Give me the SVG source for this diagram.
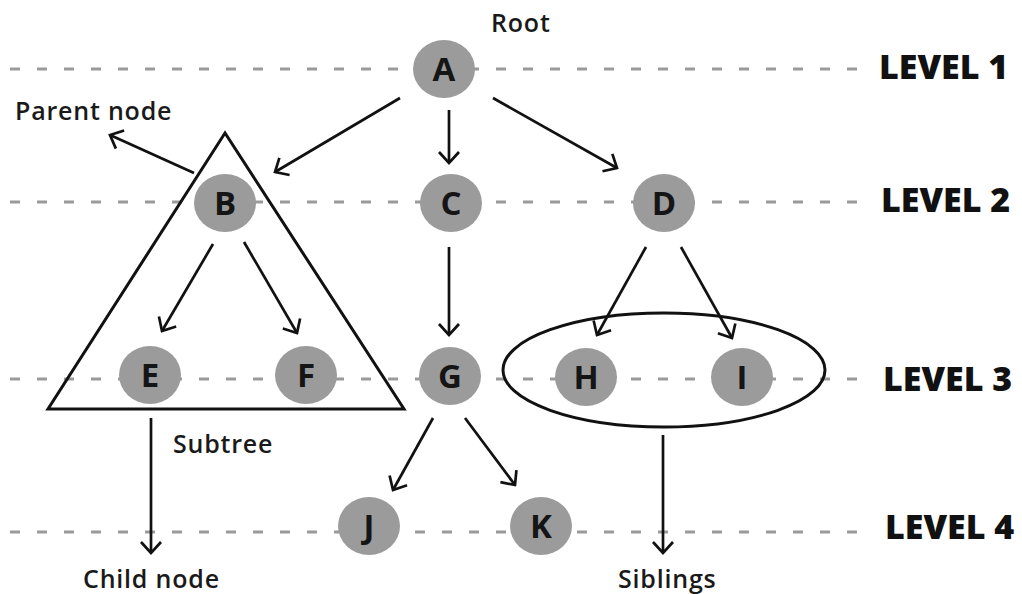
<svg xmlns="http://www.w3.org/2000/svg" width="1022" height="594" viewBox="0 0 1022 594">
<style>
.lvl{stroke:#9a9a9a;stroke-width:3;stroke-dasharray:10 17;fill:none}
.nd{fill:#9b9b9b}
.nt{font-family:"Open Sans","Liberation Sans",sans-serif;font-weight:700;font-size:33px;fill:#151515;text-anchor:middle}
.lt{font-family:"Open Sans","Liberation Sans",sans-serif;font-weight:800;font-size:34px;fill:#111}
.lb{font-family:"Open Sans","Liberation Sans",sans-serif;font-weight:600;font-size:25px;letter-spacing:0.8px;fill:#1a1a1a}
.ar{stroke:#111;stroke-width:2.7;fill:none;marker-end:url(#ah)}
.sh{stroke:#111;stroke-width:3;fill:none}
</style>
<defs>
<marker id="ah" viewBox="-16 -13 18 26" refX="0" refY="0" markerWidth="18" markerHeight="26" markerUnits="userSpaceOnUse" orient="auto">
<path d="M-11,-10 L0,0 L-11,10" stroke="#111" stroke-width="2.7" fill="none" stroke-linejoin="miter"/>
</marker>
</defs>
<rect width="1022" height="594" fill="#fff"/>
<g id="levels">
<line class="lvl" x1="10" y1="69" x2="865" y2="69"/>
<line class="lvl" x1="10" y1="202" x2="865" y2="202"/>
<line class="lvl" x1="10" y1="379" x2="865" y2="379"/>
<line class="lvl" x1="10" y1="532" x2="865" y2="532"/>
<text class="lt" x="879" y="79">LEVEL 1</text>
<text class="lt" x="881" y="212">LEVEL 2</text>
<text class="lt" x="883" y="391">LEVEL 3</text>
<text class="lt" x="885" y="539">LEVEL 4</text>
</g>
<g id="shapes">
<polygon class="sh" points="225,133 48,409 404,409"/>
<ellipse class="sh" cx="664" cy="370" rx="161" ry="57"/>
</g>
<g id="connectors">
<line class="ar" x1="400" y1="98" x2="275" y2="172"/>
<line class="ar" x1="449" y1="110" x2="449" y2="163"/>
<line class="ar" x1="493" y1="98" x2="617" y2="168"/>
<line class="ar" x1="194" y1="173" x2="110" y2="135"/>
<line class="ar" x1="213" y1="244" x2="162" y2="331"/>
<line class="ar" x1="244" y1="242" x2="297" y2="333"/>
<line class="ar" x1="449" y1="247" x2="449" y2="335"/>
<line class="ar" x1="646" y1="247" x2="597" y2="335"/>
<line class="ar" x1="681" y1="247" x2="732" y2="338"/>
<line class="ar" x1="433" y1="418" x2="393" y2="490"/>
<line class="ar" x1="465" y1="418" x2="515" y2="485"/>
<line class="ar" x1="151" y1="418" x2="151" y2="553"/>
<line class="ar" x1="663" y1="435" x2="663" y2="553"/>
</g>
<g id="node-A"><ellipse class="nd" cx="444" cy="69" rx="31" ry="29"/><text class="nt" x="444" y="81">A</text></g>
<g id="node-B"><ellipse class="nd" cx="225" cy="203" rx="31" ry="29"/><text class="nt" x="225" y="215">B</text></g>
<g id="node-C"><ellipse class="nd" cx="451" cy="203" rx="31" ry="29"/><text class="nt" x="451" y="215">C</text></g>
<g id="node-D"><ellipse class="nd" cx="664" cy="203" rx="31" ry="29"/><text class="nt" x="664" y="215">D</text></g>
<g id="node-E"><ellipse class="nd" cx="150" cy="375" rx="31" ry="29"/><text class="nt" x="150" y="387">E</text></g>
<g id="node-F"><ellipse class="nd" cx="306" cy="375" rx="31" ry="29"/><text class="nt" x="306" y="387">F</text></g>
<g id="node-G"><ellipse class="nd" cx="450" cy="376" rx="31" ry="29"/><text class="nt" x="450" y="388">G</text></g>
<g id="node-H"><ellipse class="nd" cx="586" cy="377" rx="31" ry="29"/><text class="nt" x="586" y="389">H</text></g>
<g id="node-I"><ellipse class="nd" cx="742" cy="377" rx="31" ry="29"/><text class="nt" x="742" y="389">I</text></g>
<g id="node-J"><ellipse class="nd" cx="369" cy="526" rx="31" ry="29"/><text class="nt" x="369" y="538">J</text></g>
<g id="node-K"><ellipse class="nd" cx="541" cy="526" rx="31" ry="29"/><text class="nt" x="541" y="538">K</text></g>
<g id="labels">
<text class="lb" x="491" y="32">Root</text>
<text class="lb" x="15" y="120">Parent node</text>
<text class="lb" x="173" y="453">Subtree</text>
<text class="lb" x="83" y="588">Child node</text>
<text class="lb" x="618" y="588">Siblings</text>
</g>
</svg>
